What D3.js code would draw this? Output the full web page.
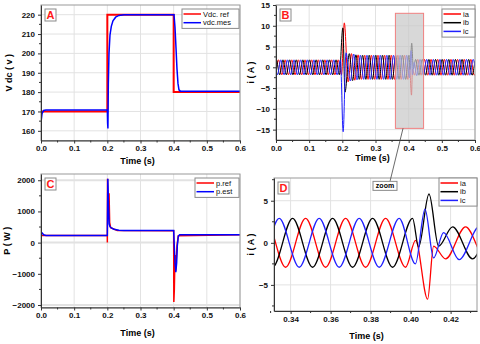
<!DOCTYPE html>
<html lang="en">
<head>
<meta charset="UTF-8" />
<title>Vdc, currents and power</title>
<script src="https://d3js.org/d3.v7.min.js"></script>
<style>
  body { margin: 0; background: #fff; }
  svg text { font-family: Arial, "Liberation Sans", sans-serif; }
</style>
</head>
<body>
<div id="chart"></div>
<script>
// ---------- data ----------
// panel A : DC bus voltage [t (s), V]
const vdcRef = [[0, 170], [0.2, 170], [0.2, 220], [0.4, 220], [0.4, 180], [0.6, 180]];
const vdcMes = [[0, 164.5], [0.003, 168.8], [0.008, 170.5], [0.015, 170.8], [0.2, 170.8], [0.2008, 164],
  [0.2018, 161.2], [0.203, 184], [0.205, 200], [0.208, 209.5], [0.212, 214], [0.217, 216.8],
  [0.225, 218.7], [0.235, 219.6], [0.25, 220], [0.401, 220], [0.404, 213.5], [0.407, 203],
  [0.41, 192], [0.413, 184.5], [0.416, 181.2], [0.42, 180.5], [0.6, 180.4]];

// panel C : active power [t (s), W]
const pRef = [[0, 230], [0.2, 230], [0.2, 0], [0.2006, 2050], [0.203, 1100], [0.2052, 1580],
  [0.207, 650], [0.21, 480], [0.23, 390], [0.4, 380], [0.4005, -1900], [0.402, -1500],
  [0.404, -400], [0.406, -900], [0.41, -100], [0.414, 220], [0.6, 250]];
const pEst = [[0, 350], [0.004, 300], [0.008, 250], [0.015, 232], [0.2, 232], [0.2015, 2050],
  [0.203, 1400], [0.2055, 600], [0.208, 510], [0.212, 470], [0.22, 430], [0.235, 395],
  [0.25, 385], [0.4, 385], [0.402, -150], [0.404, -650], [0.4065, -950], [0.409, -650],
  [0.411, -100], [0.414, 200], [0.418, 255], [0.6, 255]];

// panels B and D : phase currents, successive extrema [t (ms), A]
const ia = [[0, -1.3],
  [7.5, 1.8], [17.5, -1.8], [27.5, 1.8], [37.5, -1.8], [47.5, 1.8], [57.5, -1.8], [67.5, 1.8], [77.5, -1.8],
  [87.5, 1.8], [97.5, -1.8], [107.5, 1.8], [117.5, -1.8], [127.5, 1.8], [137.5, -1.8], [147.5, 1.8],
  [157.5, -1.8], [167.5, 1.8], [177.5, -1.8], [187.5, 1.8], [197.5, -1.8],
  [206, 10.7], [217.5, -3.5], [227.5, 3.3], [237.5, -3.1], [247.5, 3.0], [257.5, -2.9], [267.5, 2.9],
  [277.5, -2.9], [287.5, 2.9], [297.5, -2.9], [307.5, 2.9], [317.5, -2.9], [327.5, 2.9], [337.5, -2.9],
  [347.5, 2.9], [357.5, -2.9], [367.5, 2.9], [377.5, -2.9], [387.5, 2.9], [397.5, -2.9],
  [402.5, 0.3], [408.5, -6.7], [411.5, -0.4], [417.5, -1.9], [427.5, 1.9], [437.5, -1.9], [447.5, 1.9],
  [457.5, -1.9], [467.5, 1.9], [477.5, -1.9], [487.5, 1.9], [497.5, -1.9], [507.5, 1.9], [517.5, -1.9],
  [527.5, 1.9], [537.5, -1.9], [547.5, 1.9], [557.5, -1.9], [567.5, 1.9], [577.5, -1.9], [587.5, 1.9],
  [597.5, -1.9], [600, -1.7]];
const ib = [[0, 1.6],
  [1, 1.8], [11, -1.8], [21, 1.8], [31, -1.8], [41, 1.8], [51, -1.8], [61, 1.8], [71, -1.8], [81, 1.8],
  [91, -1.8], [101, 1.8], [111, -1.8], [121, 1.8], [131, -1.8], [141, 1.8], [151, -1.8], [161, 1.8],
  [171, -1.8], [181, 1.8], [191, -1.8],
  [201.5, 9.5], [208, -6.0], [221, 3.3], [231, -3.2], [241, 3.0], [251, -2.9], [261, 2.9], [271, -2.9],
  [281, 2.9], [291, -2.9], [301, 2.9], [311, -2.9], [321, 2.9], [331, -2.9], [341, 2.9], [351, -2.9],
  [361, 2.9], [371, -2.9], [381, 2.9], [391, -2.9], [401, 2.9],
  [404, -0.5], [409.2, 5.8], [414, -0.4], [421, 1.9], [431, -1.9], [441, 1.9], [451, -1.9], [461, 1.9],
  [471, -1.9], [481, 1.9], [491, -1.9], [501, 1.9], [511, -1.9], [521, 1.9], [531, -1.9], [541, 1.9],
  [551, -1.9], [561, 1.9], [571, -1.9], [581, 1.9], [591, -1.9], [600, 1.6]];
const ic = [[0, -0.4],
  [4.3, -1.8], [14.3, 1.8], [24.3, -1.8], [34.3, 1.8], [44.3, -1.8], [54.3, 1.8], [64.3, -1.8],
  [74.3, 1.8], [84.3, -1.8], [94.3, 1.8], [104.3, -1.8], [114.3, 1.8], [124.3, -1.8], [134.3, 1.8],
  [144.3, -1.8], [154.3, 1.8], [164.3, -1.8], [174.3, 1.8], [184.3, -1.8], [194.3, 1.8],
  [202.5, -15.5], [211, 3.5], [224.3, -3.3], [234.3, 3.2], [244.3, -3.0], [254.3, 2.9], [264.3, -2.9],
  [274.3, 2.9], [284.3, -2.9], [294.3, 2.9], [304.3, -2.9], [314.3, 2.9], [324.3, -2.9], [334.3, 2.9],
  [344.3, -2.9], [354.3, 2.9], [364.3, -2.9], [374.3, 2.9], [384.3, -2.9], [394.3, 2.9],
  [402.4, -2.5], [407.2, 4.0], [411.5, -1.8], [416.5, 1.2], [424.3, -2.0], [434.3, 1.9], [444.3, -1.9],
  [454.3, 1.9], [464.3, -1.9], [474.3, 1.9], [484.3, -1.9], [494.3, 1.9], [504.3, -1.9], [514.3, 1.9],
  [524.3, -1.9], [534.3, 1.9], [544.3, -1.9], [554.3, 1.9], [564.3, -1.9], [574.3, 1.9], [584.3, -1.9],
  [594.3, 1.9], [600, 0.2]];

// zoom window drawn on panel B [t (ms)], [A]
const zoomT = [360, 445];
const zoomI = [-14.7, 13];

// tick values
const tTicks = [0, 0.1, 0.2, 0.3, 0.4, 0.5, 0.6];
const tZoomTicks = [0.34, 0.36, 0.38, 0.40, 0.42];
const vdcTicks = [160, 170, 180, 190, 200, 210, 220];
const iTicks = [-15, -10, -5, 0, 5, 10, 15];
const pTicks = [-2000, -1000, 0, 1000, 2000];
const iZoomTicks = [-5, 0, 5];

const svg = d3.select("#chart").append("svg").attr("width", 480).attr("height", 344);

// one framed panel with grid, axes and a clipped layer for the curves
function panel(o) {
  const x = d3.scaleLinear().domain(o.xDom).range([o.left, o.right]);
  const y = d3.scaleLinear().domain(o.yDom).range([o.bottom, o.top]);
  const g = svg.append("g");

  g.selectAll(null).data(o.xTicks).join("line")
    .attr("x1", d => x(d)).attr("x2", d => x(d)).attr("y1", o.top).attr("y2", o.bottom)
    .attr("stroke", "#e2e2e2");
  g.selectAll(null).data(o.yGrid || o.yTicks).join("line")
    .attr("x1", o.left).attr("x2", o.right).attr("y1", d => y(d)).attr("y2", d => y(d))
    .attr("stroke", "#e2e2e2").attr("stroke-width", o.gridW || 1);

  svg.append("clipPath").attr("id", "clip" + o.name).append("rect")
    .attr("x", o.left).attr("y", o.top).attr("width", o.right - o.left).attr("height", o.bottom - o.top);
  const plot = g.append("g").attr("clip-path", `url(#clip${o.name})`);

  // frame
  g.append("rect").attr("x", o.left).attr("y", o.top)
    .attr("width", o.right - o.left).attr("height", o.bottom - o.top)
    .attr("fill", "none").attr("stroke", "#9a9a9a");

  const ax = g.append("g").attr("transform", `translate(0,${o.bottom})`)
    .call(d3.axisBottom(x).tickValues(o.xTicks).tickFormat(d3.format(o.xFmt)).tickSize(3).tickSizeOuter(0).tickPadding(2));
  const ay = g.append("g").attr("transform", `translate(${o.left},0)`)
    .call(d3.axisLeft(y).tickValues(o.yTicks).tickFormat(d3.format("d")).tickSize(3).tickSizeOuter(0).tickPadding(3));
  [ax, ay].forEach(a => {
    a.select(".domain").attr("stroke", "#333");
    a.selectAll(".tick line").attr("stroke", "#333");
    a.selectAll("text").attr("font-size", 8).attr("font-weight", "bold").attr("fill", "#111");
  });
  // minor ticks half way
  g.selectAll(null).data(o.xMinor).join("line")
    .attr("x1", d => x(d)).attr("x2", d => x(d)).attr("y1", o.bottom).attr("y2", o.bottom + 2)
    .attr("stroke", "#333");
  g.selectAll(null).data(o.yMinor).join("line")
    .attr("x1", o.left).attr("x2", o.left - 2).attr("y1", d => y(d)).attr("y2", d => y(d))
    .attr("stroke", "#333");

  // axis titles
  g.append("text").attr("x", (o.left + o.right) / 2 + o.xTitleDx).attr("y", o.xTitleY)
    .attr("text-anchor", "middle").attr("font-size", 9).attr("font-weight", "bold").text("Time (s)");
  g.append("text").attr("transform", `translate(${o.yTitleX},${(o.top + o.bottom) / 2}) rotate(-90)`)
    .attr("text-anchor", "middle").attr("font-size", 9).attr("font-weight", "bold").text(o.yTitle);

  // panel letter
  g.append("rect").attr("x", o.left + 4).attr("y", o.top + 4).attr("width", 11).attr("height", 12)
    .attr("fill", "#fff").attr("stroke", "#8a8a8a");
  g.append("text").attr("x", o.left + 9.5).attr("y", o.top + 14).attr("text-anchor", "middle")
    .attr("font-size", 11).attr("font-weight", "bold").attr("fill", "#ff1a1a").text(o.letter);

  return { x, y, g, plot };
}

function legend(p, items, x0, y0, w) {
  const h = items.length * 8.7 + 2;
  p.g.append("rect").attr("x", x0).attr("y", y0).attr("width", w).attr("height", h)
    .attr("fill", "#fff").attr("stroke", "#8a8a8a");
  items.forEach((it, i) => {
    const yy = y0 + 5 + i * 8.7;
    p.g.append("line").attr("x1", x0 + 1.5).attr("x2", x0 + 19).attr("y1", yy).attr("y2", yy)
      .attr("stroke", it.color).attr("stroke-width", 1.5);
    p.g.append("text").attr("x", x0 + 21).attr("y", yy + 2.7).attr("font-size", 7.5)
      .attr("fill", "#111").text(it.label);
  });
}

// ---------- A : Vdc ----------
const A = panel({
  name: "A", letter: "A", left: 41, right: 240, top: 5, bottom: 140.5,
  xDom: [0, 0.6], yDom: [155, 225], xTicks: tTicks, xFmt: ".1f", yTicks: vdcTicks,
  xMinor: [0.05, 0.15, 0.25, 0.35, 0.45, 0.55], yMinor: [165, 175, 185, 195, 205, 215],
  xTitleDx: -3, xTitleY: 164, yTitle: "V dc ( v )", yTitleX: 12
});
const lineA = d3.line().x(d => A.x(d[0])).y(d => A.y(d[1]));
A.plot.append("path").attr("d", lineA(vdcRef)).attr("fill", "none").attr("stroke", "#ff0000").attr("stroke-width", 2);
A.plot.append("path").attr("d", lineA(vdcMes)).attr("fill", "none").attr("stroke", "#0000ff").attr("stroke-width", 1.5);
legend(A, [{ label: "Vdc. ref", color: "#ff0000" }, { label: "vdc.mes", color: "#0000ff" }], 182, 9, 57);

// ---------- B : currents ----------
const B = panel({
  name: "B", letter: "B", left: 276, right: 475, top: 5, bottom: 140,
  xDom: [0, 0.6], yDom: [-17.5, 15], xTicks: tTicks, xFmt: ".1f", yTicks: iTicks,
  xMinor: [0.05, 0.15, 0.25, 0.35, 0.45, 0.55], yMinor: [-12.5, -7.5, -2.5, 2.5, 7.5, 12.5],
  xTitleDx: -3, xTitleY: 161, yTitle: "i ( A )", yTitleX: 254
});
const phases = [{ data: ia, color: "#ff0000", label: "ia" }, { data: ib, color: "#000000", label: "ib" },
  { data: ic, color: "#2020ff", label: "ic" }];
const lineB = d3.line().curve(d3.curveMonotoneX).x(d => B.x(d[0] / 1000)).y(d => B.y(d[1]));
phases.forEach(ph => {
  B.plot.append("path").attr("d", lineB(ph.data)).attr("fill", "none")
    .attr("stroke", ph.color).attr("stroke-width", 1);
});
// shaded zoom window
B.g.append("rect").attr("x", B.x(zoomT[0] / 1000)).attr("y", B.y(zoomI[1]))
  .attr("width", B.x(zoomT[1] / 1000) - B.x(zoomT[0] / 1000)).attr("height", B.y(zoomI[0]) - B.y(zoomI[1]))
  .attr("fill", "#c8c8c8").attr("fill-opacity", 0.7).attr("stroke", "#f08080");
legend(B, phases, 442, 9, 33);

// ---------- C : power ----------
const C = panel({
  name: "C", letter: "C", left: 41, right: 240, top: 174, bottom: 307.5,
  xDom: [0, 0.6], yDom: [-2080, 2200], xTicks: tTicks, xFmt: ".1f", yTicks: pTicks,
  yGrid: [-2000, 0, 2000], gridW: 2,
  xMinor: [0.05, 0.15, 0.25, 0.35, 0.45, 0.55], yMinor: [-1500, -500, 500, 1500],
  xTitleDx: -3, xTitleY: 336, yTitle: "P ( W )", yTitleX: 10
});
const lineC = d3.line().x(d => C.x(d[0])).y(d => C.y(d[1]));
C.plot.append("path").attr("d", lineC(pRef)).attr("fill", "none").attr("stroke", "#ff0000").attr("stroke-width", 1.5);
C.plot.append("path").attr("d", lineC(pEst)).attr("fill", "none").attr("stroke", "#0000ff").attr("stroke-width", 1.5);
legend(C, [{ label: "p.ref", color: "#ff0000" }, { label: "p.est", color: "#0000ff" }], 195, 178, 44);

// ---------- D : zoom on currents ----------
const D = panel({
  name: "D", letter: "D", left: 274, right: 477, top: 178, bottom: 311,
  xDom: [0.3317, 0.4332], yDom: [-8.1, 7.7], xTicks: tZoomTicks, xFmt: ".2f", yTicks: iZoomTicks,
  xMinor: [0.33, 0.35, 0.37, 0.39, 0.41, 0.43], yMinor: [-7.5, -2.5, 2.5, 7.5],
  xTitleDx: -9, xTitleY: 339, yTitle: "i ( A )", yTitleX: 254
});
const lineD = d3.line().curve(d3.curveMonotoneX).x(d => D.x(d[0] / 1000)).y(d => D.y(d[1]));
phases.forEach(ph => {
  D.plot.append("path").attr("d", lineD(ph.data)).attr("fill", "none")
    .attr("stroke", ph.color).attr("stroke-width", 1.3);
});
legend(D, phases, 439, 178, 38);

// "zoom" tag and the connector from the window in B
const tagX = D.x(0.3812), tagY = D.y(7.3);
svg.append("line").attr("x1", B.x(0.383)).attr("y1", B.y(zoomI[0]))
  .attr("x2", tagX + 17).attr("y2", tagY).attr("stroke", "#444").attr("stroke-width", 0.8);
svg.append("rect").attr("x", tagX).attr("y", tagY).attr("width", 24).attr("height", 9)
  .attr("fill", "#fff").attr("stroke", "#8a8a8a");
svg.append("text").attr("x", tagX + 12).attr("y", tagY + 7).attr("text-anchor", "middle")
  .attr("font-size", 7).attr("font-weight", "bold").text("zoom");
</script>
</body>
</html>
